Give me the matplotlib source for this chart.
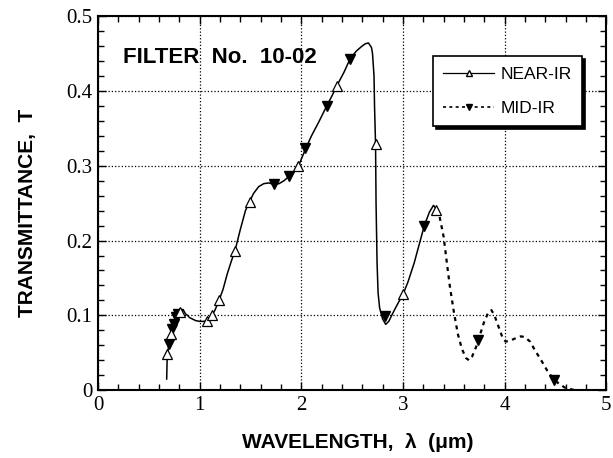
import matplotlib
matplotlib.use('Agg')
import matplotlib.pyplot as plt
from matplotlib.lines import Line2D
from matplotlib.ticker import MultipleLocator

# NEAR-IR transmittance curve (solid)
near_x = [0.675, 0.68, 0.69, 0.70, 0.71, 0.72, 0.73, 0.74, 0.75, 0.76, 0.77,
          0.78, 0.79, 0.80, 0.82, 0.84, 0.86, 0.88, 0.90, 0.93, 0.96, 1.00,
          1.04, 1.07, 1.10, 1.12, 1.15, 1.19, 1.23, 1.27, 1.31, 1.35, 1.40,
          1.45, 1.49, 1.53, 1.58, 1.63, 1.68, 1.73, 1.78, 1.83, 1.88, 1.93,
          1.97, 2.04, 2.10, 2.17, 2.25, 2.30, 2.35, 2.42, 2.48, 2.54, 2.59,
          2.63, 2.66, 2.69, 2.70, 2.715, 2.72, 2.73, 2.735, 2.745, 2.755,
          2.77, 2.80, 2.83, 2.86, 2.90, 2.95, 3.00, 3.05, 3.11, 3.16, 3.21,
          3.26, 3.30, 3.33]
near_y = [0.015, 0.045, 0.055, 0.065, 0.060, 0.075, 0.080, 0.090, 0.085,
          0.095, 0.100, 0.105, 0.098, 0.108, 0.105, 0.107, 0.102, 0.100,
          0.097, 0.095, 0.093, 0.092, 0.092, 0.093, 0.096, 0.100, 0.107,
          0.120, 0.135, 0.155, 0.172, 0.188, 0.215, 0.240, 0.252, 0.263,
          0.272, 0.276, 0.277, 0.275, 0.276, 0.280, 0.286, 0.292, 0.299,
          0.322, 0.340, 0.358, 0.380, 0.393, 0.407, 0.425, 0.443, 0.453,
          0.459, 0.463, 0.464, 0.458, 0.450, 0.420, 0.380, 0.329, 0.250,
          0.170, 0.130, 0.110, 0.095, 0.088, 0.092, 0.103, 0.116, 0.128,
          0.145, 0.170, 0.195, 0.220, 0.238, 0.247, 0.242]

# NEAR-IR marker points (open triangles)
near_mx = [0.68, 0.72, 0.81, 1.07, 1.12, 1.19, 1.35, 1.49, 1.97, 2.35, 2.73,
           3.00, 3.32]
near_my = [0.049, 0.075, 0.104, 0.092, 0.100, 0.120, 0.186, 0.251, 0.299,
           0.407, 0.329, 0.128, 0.241]

# MID-IR transmittance curve (dotted, beyond the NEAR-IR range)
mid_x = [3.33, 3.36, 3.40, 3.43, 3.46, 3.50, 3.54, 3.58, 3.62, 3.65, 3.68,
         3.72, 3.76, 3.80, 3.84, 3.87, 3.90, 3.94, 3.98, 4.01, 4.05, 4.10,
         4.16, 4.20, 4.25, 4.30, 4.36, 4.42, 4.48, 4.54, 4.60, 4.68]
mid_y = [0.242, 0.232, 0.205, 0.172, 0.140, 0.105, 0.075, 0.055, 0.043,
         0.040, 0.045, 0.058, 0.075, 0.092, 0.104, 0.107, 0.100, 0.085,
         0.070, 0.065, 0.066, 0.069, 0.072, 0.071, 0.065, 0.053, 0.040,
         0.026, 0.015, 0.008, 0.003, 0.0005]

# MID-IR marker points (filled down triangles)
mid_mx = [0.70, 0.73, 0.75, 0.77, 0.79, 1.73, 1.88, 2.04, 2.25, 2.48, 2.82,
          3.21, 3.74, 4.49]
mid_my = [0.062, 0.082, 0.088, 0.098, 0.102, 0.275, 0.286, 0.323, 0.380,
          0.443, 0.099, 0.220, 0.067, 0.014]

tick_labels = ['0', '0.1', '0.2', '0.3', '0.4', '0.5']

sans = ['Liberation Sans', 'DejaVu Sans']
serif = ['Liberation Serif', 'DejaVu Serif']
mid_dash = (0, (1.8, 2.0))

fig = plt.figure(figsize=(6.13, 4.58), dpi=100)
ax = fig.add_axes([0.16, 0.148, 0.829, 0.817])

ax.plot(mid_x, mid_y, color='black', lw=1.6, ls=mid_dash)
ax.plot(near_x, near_y, color='black', lw=1.1, ls='-')
ax.plot(mid_mx, mid_my, ls='none', marker='v', ms=7, mfc='black',
        mec='black')
ax.plot(near_mx, near_my, ls='none', marker='^', ms=7, mfc='white',
        mec='black', mew=0.9)

ax.set_xlim(0, 5)
ax.set_ylim(0, 0.5)
ax.xaxis.set_major_locator(MultipleLocator(1))
ax.xaxis.set_minor_locator(MultipleLocator(0.2))
ax.yaxis.set_minor_locator(MultipleLocator(0.02))
ax.set_yticks([0, 0.1, 0.2, 0.3, 0.4, 0.5])
ax.set_yticklabels(tick_labels)
ax.tick_params(which='both', direction='in', top=True, right=True,
               width=1.0)
ax.tick_params(which='major', length=6, labelsize=15, pad=4)
ax.tick_params(which='minor', length=4)
for lab in ax.get_xticklabels() + ax.get_yticklabels():
    lab.set_family(serif)
for sp in ax.spines.values():
    sp.set_linewidth(1.5)
ax.grid(True, which='major', ls=':', lw=0.9, color='black')

ax.set_xlabel('WAVELENGTH,  λ  (μm)', family=sans, fontweight='bold',
              fontsize=15, labelpad=13)
ax.set_ylabel('TRANSMITTANCE,  T', family=sans, fontweight='bold',
              fontsize=15, labelpad=21)
ax.xaxis.label.set_x(0.51)
ax.yaxis.label.set_y(0.473)
ax.text(0.25, 0.445, 'FILTER  No.  10-02', family=sans, fontweight='bold',
        fontsize=16, va='center')

handles = [
    Line2D([], [], color='black', lw=0.9, marker='^', ms=5, mfc='white',
           mec='black'),
    Line2D([], [], color='black', lw=1.2, ls=mid_dash, marker='v',
           ms=5, mfc='black', mec='black'),
]
leg = ax.legend(handles, ['NEAR-IR', 'MID-IR'], loc='upper right',
                bbox_to_anchor=(0.953, 0.893), borderaxespad=0,
                prop={'family': sans, 'size': 12.5},
                handlelength=2.9, fancybox=False,
                shadow={'color': 'black', 'alpha': 1, 'ox': 2, 'oy': -2},
                framealpha=1, edgecolor='black', borderpad=0.6,
                labelspacing=1.1, handletextpad=0.4)
leg.get_frame().set_linewidth(1.2)

fig.savefig('out.png', dpi=100)
